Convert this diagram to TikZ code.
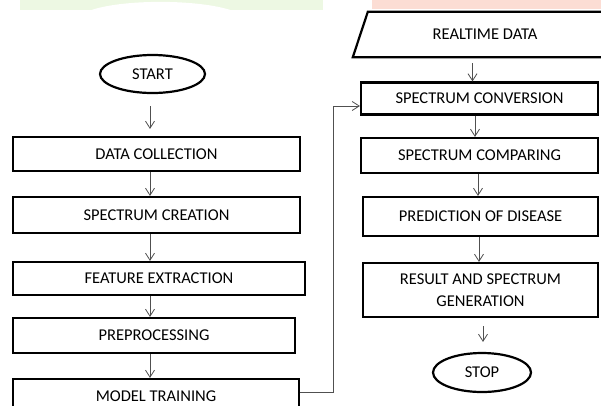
\documentclass[tikz,border=0pt]{standalone}
\usepackage{fontspec}
\setmainfont{Carlito}
\usetikzlibrary{arrows.meta,shapes.geometric}
\definecolor{bandgreen}{HTML}{EDF8E3}
\definecolor{bandpink}{HTML}{FCDDD4}
\definecolor{linegray}{HTML}{505050}
\begin{document}
\begin{tikzpicture}[x=1pt,y=-1pt,
  box/.style={draw=black,line width=2.2pt,fill=white,inner sep=0pt,
    font=\fontsize{16.5}{22}\selectfont,align=center},
  term/.style={ellipse,draw=black,line width=2.2pt,fill=white,inner sep=0pt,
    font=\fontsize{16.5}{22}\selectfont},
  arr/.style={draw=linegray,line width=0.8pt,-{Straight Barb[length=7pt,width=9pt]}}]
\clip (0,0) rectangle (601,405);
\fill[white] (0,0) rectangle (601,405);
% top bands
\fill[bandgreen] (20,0) rectangle (323,10);
\fill[white] (90,10.5) .. controls (122,-1) and (198,-1) .. (232,10.5) -- cycle;
\fill[bandpink] (372,0) rectangle (601,9);
% left column
\node[term,minimum width=105,minimum height=38] (start) at (152.5,74) {START};
\node[box,minimum width=287,minimum height=34] (data) at (156.5,154) {DATA COLLECTION};
\node[box,minimum width=287,minimum height=36] (spec) at (156.5,215) {SPECTRUM CREATION};
\node[box,minimum width=292,minimum height=33] (feat) at (159,278.5) {FEATURE EXTRACTION};
\node[box,minimum width=282,minimum height=35] (pre) at (154,335.5) {PREPROCESSING};
\node[box,minimum width=286,minimum height=34] (model) at (156,396) {MODEL TRAINING};
% right column
\node[inner sep=0pt,minimum width=249,minimum height=45,
  font=\fontsize{16.5}{22}\selectfont] (rd) at (485,34.5) {REALTIME DATA};
\draw[line width=2.2pt,line join=miter]
  ([xshift=7.5pt]rd.north west) -- ([xshift=7.5pt]rd.north east)
  -- ([xshift=-7.5pt]rd.south east) -- ([xshift=-7.5pt]rd.south west) -- cycle;
\node[box,minimum width=237,minimum height=32] (conv) at (479.5,98.5) {SPECTRUM CONVERSION};
\node[box,minimum width=237,minimum height=35] (comp) at (479.5,155.5) {SPECTRUM COMPARING};
\node[box,minimum width=235,minimum height=39] (pred) at (480.5,216.5) {PREDICTION OF DISEASE};
\node[box,minimum width=235,minimum height=54] (res) at (480.5,290) {RESULT AND SPECTRUM\\GENERATION};
\node[term,minimum width=98,minimum height=39] (stop) at (482,372.5) {STOP};
% arrow columns
\coordinate (lx) at (150,0);
\coordinate (r1) at (472.5,0);
\coordinate (r2) at (475,0);
\coordinate (r3) at (478,0);
\coordinate (r4) at (479,0);
\coordinate (r5) at (483,0);
\draw[arr,shorten <=12pt,shorten >=7pt] (start.south -| lx) -- (data.north -| lx);
\draw[arr] (data.south -| lx) -- (spec.north -| lx);
\draw[arr] (spec.south -| lx) -- (feat.north -| lx);
\draw[arr] (feat.south -| lx) -- (pre.north -| lx);
\draw[arr] (pre.south -| lx) -- (model.north -| lx);
\draw[arr,shorten <=6pt] (rd.south -| r1) -- (conv.north -| r1);
\draw[arr] (conv.south -| r2) -- (comp.north -| r2);
\draw[arr] (comp.south -| r3) -- (pred.north -| r3);
\draw[arr] (pred.south -| r4) -- (res.north -| r4);
\draw[arr,shorten <=8pt,shorten >=10pt] (res.south -| r5) -- (stop.north -| r5);
% feedback connector
\coordinate (k1) at (333,392);
\coordinate (k2) at (333,106);
\draw[arr] (model.east |- k1) -- (k1) -- (k2) -- (conv.west |- k2);
\end{tikzpicture}
\end{document}
